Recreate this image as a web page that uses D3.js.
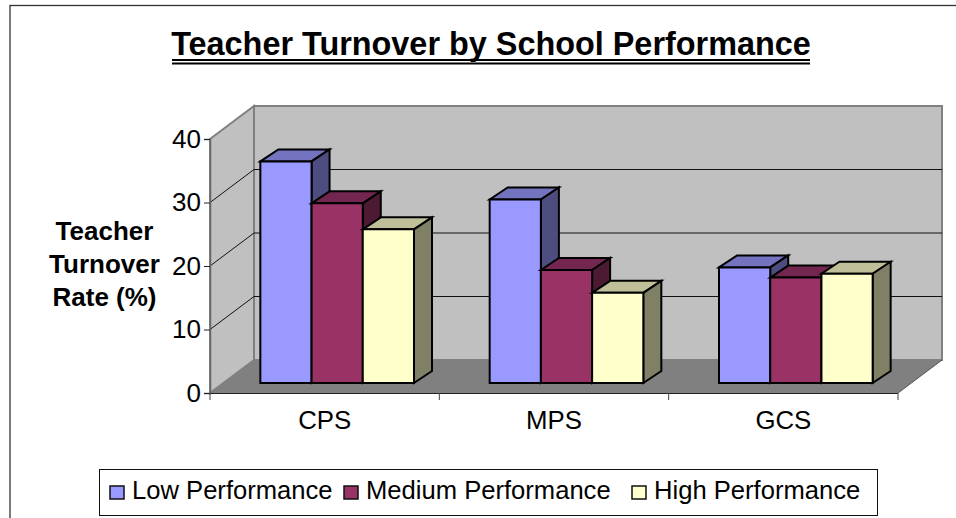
<!DOCTYPE html>
<html><head><meta charset="utf-8">
<script src="https://cdn.jsdelivr.net/npm/d3@7"></script>
<style>html,body{margin:0;padding:0;background:#fff}svg{display:block}text{font-family:"Liberation Sans",Arial,sans-serif;fill:#000}</style>
</head><body><svg id="c" width="956" height="518"></svg>
<script>
const categories = ["CPS", "MPS", "GCS"];
const seriesNames = ["Low Performance", "Medium Performance", "High Performance"];
const lowValues = [34.9, 28.9, 18.2];
const mediumValues = [28.3, 17.8, 16.6];
const highValues = [24.2, 14.2, 17.2];
const yTicks = [0, 10, 20, 30, 40];
const frontColors = ["#9999ff", "#993366", "#ffffcc"];
const topColors = ["#7373bf", "#732650", "#bfbf99"];
const sideColors = ["#4d4d80", "#4d1a33", "#808066"];
const yLabelLines = ["Teacher", "Turnover", "Rate (%)"];
const seriesValues = [lowValues, mediumValues, highValues];

const svg = d3.select("#c");
const x0 = 210, x1 = 898, y0 = 393, y40 = 139;
const wallDx = 44, wallDy = -33;
const barDx = 18, barDy = -12;
const barLift = 10;

const y = d3.scaleLinear().domain([0, 40]).range([y0, y40]);
const xAxis = d3.scaleBand().domain(categories).range([x0, x1]);
const xGroup = d3.scaleBand().domain(categories).range([x0 + 12.5, x1 + 12.5]).paddingInner(0.33).paddingOuter(0.165);
const xBar = d3.scaleBand().domain(d3.range(3)).range([0, xGroup.bandwidth()]);

// frame
svg.append("rect").attr("x", 10).attr("y", 5.5).attr("width", 1000).attr("height", 600)
  .attr("fill", "#fff").attr("stroke", "#333").attr("stroke-width", 1.3);

// title
svg.append("text").attr("x", 491).attr("y", 55).attr("text-anchor", "middle")
  .attr("font-size", 32.4).attr("font-weight", "bold").text("Teacher Turnover by School Performance");
svg.append("line").attr("x1", 172).attr("x2", 810).attr("y1", 60).attr("y2", 60).attr("stroke", "#000").attr("stroke-width", 2);
svg.append("line").attr("x1", 172).attr("x2", 810).attr("y1", 63.5).attr("y2", 63.5).attr("stroke", "#000").attr("stroke-width", 2);

const poly = (pts, fill, stroke, sw) => svg.append("polygon")
  .attr("points", pts.map(p => p.join(",")).join(" "))
  .attr("fill", fill).attr("stroke", stroke).attr("stroke-width", sw).attr("stroke-linejoin", "miter");

// walls
const wallTop = y(40);
poly([[x0, y0], [x0 + wallDx, y0 + wallDy], [x1 + wallDx, y0 + wallDy], [x1, y0]], "#808080", "none", 0);
poly([[x0 + wallDx, wallTop + wallDy], [x1 + wallDx, wallTop + wallDy], [x1 + wallDx, y0 + wallDy], [x0 + wallDx, y0 + wallDy]], "#c0c0c0", "#808080", 2);
poly([[x0, wallTop], [x0 + wallDx, wallTop + wallDy], [x0 + wallDx, y0 + wallDy], [x0, y0]], "#c0c0c0", "#808080", 2);

// gridlines
yTicks.filter(t => t > 0 && t < 40).forEach(t => {
  svg.append("path").attr("fill", "none").attr("stroke", "#111").attr("stroke-width", 1)
    .attr("d", d3.line()([[x0, y(t)], [x0 + wallDx, y(t) + wallDy], [x1 + wallDx, y(t) + wallDy]]));
});

// floor edge lines
svg.append("path").attr("fill", "none").attr("stroke", "#555").attr("stroke-width", 1)
  .attr("d", d3.line()([[x1, y0], [x1 + wallDx, y0 + wallDy]]));

// axes
const leftAxis = d3.axisLeft(y).tickValues(yTicks).tickSize(6).tickPadding(3);
const gy = svg.append("g").attr("transform", `translate(${x0},0)`).call(leftAxis);
gy.select(".domain").attr("stroke", "#666").attr("stroke-width", 1.5);
gy.selectAll(".tick line").attr("stroke", "#222");
gy.selectAll("text").attr("font-size", 26).attr("font-family", '"Liberation Sans",Arial,sans-serif');

svg.append("line").attr("x1", x0).attr("x2", x1).attr("y1", y0 + .5).attr("y2", y0 + .5).attr("stroke", "#222").attr("stroke-width", 1);
xAxis.domain().concat(["end"]).forEach((c, i) => {
  const px = x0 + i * xAxis.bandwidth();
  svg.append("line").attr("x1", px).attr("x2", px).attr("y1", y0).attr("y2", y0 + 7).attr("stroke", "#444");
});
svg.selectAll("text.cat").data(categories).join("text").attr("class", "cat")
  .attr("x", d => xAxis(d) + xAxis.bandwidth() / 2).attr("y", 429)
  .attr("text-anchor", "middle").attr("font-size", 25.8).text(d => d);

// bars
categories.forEach((c, ci) => {
  seriesValues.forEach((vals, si) => {
    const xl = xGroup(c) + xBar(si), xr = xl + xBar.bandwidth();
    const yb = y(0) - barLift, yt = y(vals[ci]) - barLift;
    poly([[xl, yt], [xl + barDx, yt + barDy], [xr + barDx, yt + barDy], [xr, yt]], topColors[si], "#000", 2);
    poly([[xr, yt], [xr + barDx, yt + barDy], [xr + barDx, yb + barDy], [xr, yb]], sideColors[si], "#000", 2);
    poly([[xl, yt], [xr, yt], [xr, yb], [xl, yb]], frontColors[si], "#000", 2);
  });
});

// y title
svg.selectAll("text.yl").data(yLabelLines).join("text").attr("class", "yl")
  .attr("x", 104.5).attr("y", (d, i) => 240 + i * 33).attr("text-anchor", "middle")
  .attr("font-size", 26).attr("font-weight", "bold").text(d => d);

// legend
svg.append("rect").attr("x", 99.5).attr("y", 469.5).attr("width", 778).attr("height", 46)
  .attr("fill", "#fff").attr("stroke", "#111").attr("stroke-width", 1);
const legendX = [110, 344, 632];
seriesNames.forEach((n, i) => {
  svg.append("rect").attr("x", legendX[i]).attr("y", 486).attr("width", 14).attr("height", 13)
    .attr("fill", frontColors[i]).attr("stroke", "#111").attr("stroke-width", 1.5);
  svg.append("text").attr("x", legendX[i] + 22).attr("y", 499).attr("font-size", 25.6).text(n);
});
</script></body></html>
